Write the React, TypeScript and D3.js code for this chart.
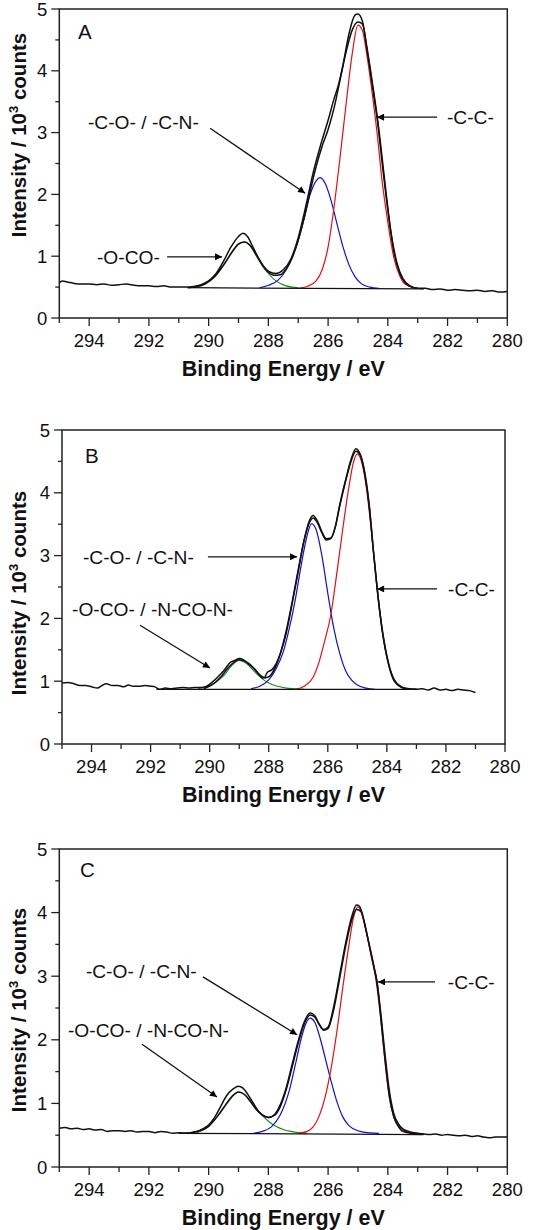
import React from 'react';
import * as d3 from 'd3';

type Pt = [number, number];

// ---------- axis ticks ----------
const xMajor = [294, 292, 290, 288, 286, 284, 282, 280];
const xMinor = [295, 293, 291, 289, 287, 285, 283, 281];
const yMajor = [0, 1, 2, 3, 4, 5];
const yMinor = [0.5, 1.5, 2.5, 3.5, 4.5];

// ---------- Panel A ----------
const A_raw: Pt[] = [
  [295.0, 0.57], [294.9, 0.60], [294.7, 0.58], [294.5, 0.56], [294.25, 0.55], [294.0, 0.55], [293.75, 0.54],
  [293.5, 0.55], [293.25, 0.53], [293.0, 0.54], [292.75, 0.55], [292.5, 0.53], [292.25, 0.52], [292.0, 0.52],
  [291.75, 0.51], [291.5, 0.52], [291.25, 0.50], [291.0, 0.50], [290.75, 0.50], [290.5, 0.51], [290.25, 0.54],
  [290.0, 0.60], [289.75, 0.72], [289.5, 0.92], [289.25, 1.15], [289.0, 1.32], [288.85, 1.37], [288.7, 1.32],
  [288.5, 1.13], [288.25, 0.90], [288.0, 0.76], [287.75, 0.72], [287.5, 0.78], [287.25, 0.95], [287.0, 1.30],
  [286.75, 1.80], [286.5, 2.35], [286.25, 2.80], [286.0, 3.20], [285.8, 3.55], [285.65, 3.78], [285.5, 4.10],
  [285.3, 4.60], [285.1, 4.90], [285.0, 4.92], [284.85, 4.80], [284.7, 4.38], [284.5, 3.75], [284.3, 3.05],
  [284.1, 2.20], [283.9, 1.40], [283.7, 0.90], [283.5, 0.64], [283.25, 0.52], [283.0, 0.48], [282.75, 0.48],
  [282.5, 0.46], [282.25, 0.47], [282.0, 0.45], [281.75, 0.46], [281.5, 0.45], [281.25, 0.44], [281.0, 0.45],
  [280.75, 0.43], [280.5, 0.44], [280.25, 0.42], [280.0, 0.43],
];
const A_env: Pt[] = [
  [290.7, 0.49], [290.4, 0.51], [290.1, 0.56], [289.8, 0.67], [289.5, 0.86], [289.2, 1.08], [289.0, 1.20],
  [288.8, 1.23], [288.6, 1.17], [288.4, 1.02], [288.2, 0.86], [288.0, 0.74], [287.8, 0.69], [287.6, 0.70],
  [287.4, 0.80], [287.2, 0.98], [287.0, 1.26], [286.8, 1.62], [286.6, 2.05], [286.4, 2.45], [286.2, 2.78],
  [286.0, 3.05], [285.8, 3.40], [285.6, 3.85], [285.4, 4.30], [285.2, 4.65], [285.0, 4.79], [284.85, 4.76],
  [284.7, 4.35], [284.5, 3.70], [284.35, 3.20], [284.2, 2.55], [284.0, 1.75], [283.8, 1.08], [283.6, 0.72],
  [283.4, 0.56], [283.2, 0.50], [283.0, 0.48],
];
const A_base: Pt[] = [[290.7, 0.49], [282.8, 0.47]];
const A_green: Pt[] = [
  [290.4, 0.50], [290.1, 0.55], [289.8, 0.66], [289.5, 0.85], [289.2, 1.07], [289.0, 1.19], [288.8, 1.23],
  [288.6, 1.16], [288.4, 1.00], [288.2, 0.84], [288.0, 0.72], [287.8, 0.62], [287.6, 0.56], [287.4, 0.52],
  [287.2, 0.50], [287.0, 0.49],
];
const A_blue: Pt[] = [
  [288.3, 0.49], [288.0, 0.53], [287.7, 0.60], [287.4, 0.78], [287.2, 0.98], [287.0, 1.25], [286.8, 1.62],
  [286.6, 2.00], [286.4, 2.22], [286.27, 2.27], [286.1, 2.18], [285.9, 1.90], [285.7, 1.52], [285.5, 1.15],
  [285.3, 0.86], [285.1, 0.67], [284.9, 0.56], [284.6, 0.50], [284.3, 0.48],
];
const A_red: Pt[] = [
  [287.0, 0.48], [286.7, 0.51], [286.4, 0.60], [286.2, 0.78], [286.0, 1.15], [285.8, 1.80], [285.6, 2.60],
  [285.4, 3.45], [285.2, 4.25], [285.0, 4.74], [284.85, 4.65], [284.7, 4.25], [284.5, 3.55], [284.35, 2.95],
  [284.2, 2.25], [284.0, 1.55], [283.8, 0.98], [283.6, 0.68], [283.4, 0.54], [283.1, 0.49], [282.8, 0.47],
];

// ---------- Panel B ----------
const B_raw: Pt[] = [
  [295.0, 0.97], [294.8, 0.98], [294.6, 0.96], [294.4, 0.93], [294.2, 0.93], [294.0, 0.91], [293.8, 0.89],
  [293.65, 0.93], [293.5, 0.96], [293.3, 0.93], [293.1, 0.93], [292.9, 0.91], [292.75, 0.94], [292.6, 0.92],
  [292.4, 0.92], [292.2, 0.93], [292.0, 0.92], [291.85, 0.91], [291.7, 0.87], [291.5, 0.89], [291.3, 0.88],
  [291.1, 0.89], [290.9, 0.90], [290.7, 0.89], [290.5, 0.90], [290.3, 0.90], [290.1, 0.92], [289.9, 0.99],
  [289.7, 1.08], [289.5, 1.18], [289.3, 1.30], [289.15, 1.33], [289.0, 1.36], [288.85, 1.34], [288.7, 1.28],
  [288.5, 1.20], [288.3, 1.10], [288.15, 1.06], [288.05, 1.14], [287.9, 1.18], [287.75, 1.28], [287.6, 1.45],
  [287.4, 1.78], [287.2, 2.25], [287.0, 2.75], [286.8, 3.25], [286.6, 3.58], [286.5, 3.64], [286.35, 3.55],
  [286.2, 3.38], [286.05, 3.27], [285.9, 3.28], [285.75, 3.45], [285.6, 3.80], [285.4, 4.20], [285.2, 4.55],
  [285.05, 4.70], [284.95, 4.66], [284.8, 4.45], [284.6, 3.82], [284.45, 3.05], [284.3, 2.35], [284.15, 1.80],
  [283.95, 1.30], [283.75, 1.02], [283.5, 0.91], [283.25, 0.88], [283.0, 0.87], [282.8, 0.88], [282.6, 0.86],
  [282.4, 0.89], [282.2, 0.86], [282.0, 0.87], [281.8, 0.85], [281.6, 0.87], [281.4, 0.86], [281.2, 0.85],
  [281.0, 0.82],
];
const B_env: Pt[] = [
  [290.2, 0.88], [289.9, 0.95], [289.6, 1.08], [289.3, 1.25], [289.0, 1.34], [288.7, 1.29], [288.4, 1.15],
  [288.2, 1.05], [288.0, 1.07], [287.8, 1.20], [287.6, 1.45], [287.4, 1.82], [287.2, 2.28], [287.0, 2.78],
  [286.8, 3.25], [286.6, 3.55], [286.5, 3.60], [286.35, 3.52], [286.2, 3.36], [286.05, 3.25], [285.9, 3.27],
  [285.75, 3.45], [285.6, 3.78], [285.4, 4.18], [285.2, 4.52], [285.05, 4.66], [284.9, 4.60], [284.75, 4.30],
  [284.6, 3.80], [284.45, 3.05], [284.3, 2.35], [284.15, 1.78], [283.95, 1.28], [283.75, 1.00], [283.5, 0.90],
  [283.2, 0.87], [283.0, 0.87],
];
const B_base: Pt[] = [[291.8, 0.87], [283.0, 0.87]];
const B_green: Pt[] = [
  [290.4, 0.88], [290.1, 0.91], [289.8, 0.98], [289.5, 1.10], [289.25, 1.25], [289.0, 1.33], [288.75, 1.28],
  [288.5, 1.16], [288.25, 1.05], [288.0, 0.97], [287.7, 0.92], [287.4, 0.89], [287.1, 0.88], [286.8, 0.87],
];
const B_blue: Pt[] = [
  [288.6, 0.88], [288.3, 0.92], [288.0, 1.02], [287.75, 1.20], [287.5, 1.48], [287.3, 1.85], [287.1, 2.30],
  [286.9, 2.85], [286.7, 3.32], [286.55, 3.51], [286.4, 3.42], [286.2, 3.00], [286.0, 2.40], [285.8, 1.85],
  [285.6, 1.45], [285.4, 1.17], [285.2, 1.02], [285.0, 0.94], [284.7, 0.89], [284.4, 0.87],
];
const B_red: Pt[] = [
  [287.1, 0.87], [286.8, 0.92], [286.5, 1.06], [286.3, 1.30], [286.1, 1.65], [285.9, 2.05], [285.7, 2.70],
  [285.5, 3.40], [285.3, 4.05], [285.15, 4.45], [285.0, 4.62], [284.85, 4.48], [284.7, 4.10], [284.55, 3.50],
  [284.4, 2.80], [284.25, 2.15], [284.1, 1.62], [283.9, 1.20], [283.7, 0.98], [283.5, 0.90], [283.2, 0.87],
  [283.0, 0.87],
];

// ---------- Panel C ----------
const C_raw: Pt[] = [
  [295.0, 0.61], [294.8, 0.62], [294.6, 0.60], [294.4, 0.61], [294.2, 0.59], [294.0, 0.60], [293.8, 0.58],
  [293.6, 0.59], [293.4, 0.56], [293.2, 0.57], [293.0, 0.57], [292.8, 0.56], [292.6, 0.57], [292.4, 0.55],
  [292.2, 0.56], [292.0, 0.56], [291.8, 0.54], [291.6, 0.56], [291.4, 0.55], [291.2, 0.53], [291.0, 0.54],
  [290.8, 0.53], [290.6, 0.54], [290.4, 0.56], [290.2, 0.60], [290.0, 0.66], [289.8, 0.78], [289.6, 0.95],
  [289.4, 1.12], [289.2, 1.22], [289.0, 1.27], [288.85, 1.24], [288.7, 1.15], [288.5, 1.00], [288.3, 0.86],
  [288.1, 0.79], [287.95, 0.78], [287.8, 0.82], [287.6, 0.98], [287.4, 1.25], [287.2, 1.62], [287.0, 1.98],
  [286.8, 2.28], [286.6, 2.42], [286.45, 2.38], [286.3, 2.25], [286.15, 2.16], [286.0, 2.20], [285.8, 2.55],
  [285.6, 3.05], [285.4, 3.55], [285.2, 3.95], [285.05, 4.12], [284.95, 4.10], [284.8, 3.88], [284.65, 3.55],
  [284.5, 3.22], [284.37, 2.92], [284.25, 2.48], [284.1, 1.80], [283.95, 1.20], [283.8, 0.84], [283.65, 0.68],
  [283.5, 0.60], [283.3, 0.56], [283.0, 0.53], [282.8, 0.52], [282.6, 0.51], [282.4, 0.52], [282.2, 0.50],
  [282.0, 0.51], [281.8, 0.50], [281.6, 0.49], [281.4, 0.50], [281.2, 0.48], [281.0, 0.49], [280.8, 0.47],
  [280.6, 0.46], [280.4, 0.47], [280.2, 0.47], [280.0, 0.47],
];
const C_env: Pt[] = [
  [291.0, 0.53], [290.6, 0.54], [290.3, 0.57], [290.0, 0.64], [289.7, 0.80], [289.4, 1.00], [289.2, 1.12],
  [289.0, 1.18], [288.8, 1.14], [288.6, 1.03], [288.4, 0.90], [288.2, 0.82], [288.0, 0.78], [287.8, 0.81],
  [287.6, 0.95], [287.4, 1.22], [287.2, 1.58], [287.0, 1.95], [286.8, 2.25], [286.6, 2.39], [286.45, 2.36],
  [286.3, 2.24], [286.15, 2.15], [286.0, 2.18], [285.8, 2.50], [285.6, 3.00], [285.4, 3.50], [285.2, 3.90],
  [285.05, 4.05], [284.9, 4.02], [284.75, 3.76], [284.6, 3.45], [284.45, 3.12], [284.35, 2.88], [284.25, 2.42],
  [284.1, 1.72], [283.95, 1.12], [283.8, 0.79], [283.65, 0.64], [283.5, 0.56], [283.2, 0.53], [282.9, 0.51],
];
const C_base: Pt[] = [[291.0, 0.53], [282.8, 0.51]];
const C_green: Pt[] = [
  [290.4, 0.54], [290.1, 0.60], [289.8, 0.74], [289.5, 0.92], [289.25, 1.08], [289.0, 1.18], [288.75, 1.12],
  [288.5, 0.97], [288.25, 0.83], [288.0, 0.72], [287.75, 0.64], [287.5, 0.59], [287.25, 0.56], [287.0, 0.54],
  [286.7, 0.53],
];
const C_blue: Pt[] = [
  [288.5, 0.53], [288.2, 0.56], [287.9, 0.63], [287.6, 0.82], [287.3, 1.20], [287.1, 1.60], [286.9, 2.02],
  [286.75, 2.25], [286.6, 2.34], [286.45, 2.28], [286.3, 2.08], [286.1, 1.72], [285.9, 1.35], [285.7, 1.02],
  [285.5, 0.78], [285.3, 0.65], [285.0, 0.57], [284.7, 0.54], [284.3, 0.53],
];
const C_red: Pt[] = [
  [287.0, 0.53], [286.7, 0.56], [286.5, 0.63], [286.3, 0.80], [286.1, 1.10], [285.9, 1.55], [285.7, 2.15],
  [285.5, 2.85], [285.3, 3.50], [285.15, 3.92], [285.0, 4.09], [284.85, 3.95], [284.7, 3.65], [284.55, 3.30],
  [284.4, 2.95], [284.25, 2.38], [284.1, 1.68], [283.95, 1.10], [283.8, 0.78], [283.6, 0.62], [283.4, 0.56],
  [283.1, 0.53], [282.8, 0.52],
];

// ---------- annotations (data coordinates) ----------
type Ann = { text: string; tx: number; ty: number; from: Pt; to: Pt };
const A_ann: Ann[] = [
  { text: '-C-O- / -C-N-', tx: 294.04, ty: 3.17, from: [289.95, 3.07], to: [286.77, 2.02] },
  { text: '-C-C-', tx: 282.02, ty: 3.25, from: [282.35, 3.25], to: [284.36, 3.25] },
  { text: '-O-CO-', tx: 293.74, ty: 0.99, from: [291.39, 0.99], to: [289.55, 0.99] },
];
const B_ann: Ann[] = [
  { text: '-C-O- / -C-N-', tx: 294.29, ty: 2.98, from: [290.06, 2.98], to: [287.04, 2.98] },
  { text: '-C-C-', tx: 281.93, ty: 2.47, from: [282.3, 2.47], to: [284.33, 2.47] },
  { text: '-O-CO- / -N-CO-N-', tx: 294.66, ty: 2.15, from: [292.36, 1.89], to: [289.99, 1.21] },
];
const C_ann: Ann[] = [
  { text: '-C-O- / -C-N-', tx: 294.11, ty: 3.08, from: [290.19, 2.99], to: [287.04, 2.08] },
  { text: '-C-C-', tx: 281.99, ty: 2.91, from: [282.42, 2.91], to: [284.33, 2.91] },
  { text: '-O-CO- / -N-CO-N-', tx: 294.71, ty: 2.15, from: [292.23, 1.93], to: [289.72, 1.10] },
];

const FONT = '"Liberation Sans", Arial, Helvetica, sans-serif';

type Panel = {
  letter: string; letterPos: Pt;
  box: { left: number; right: number; top: number; bottom: number };
  yTitleY: number;
  raw: Pt[]; env: Pt[]; base: Pt[]; green: Pt[]; blue: Pt[]; red: Pt[]; ann: Ann[];
};

const panels: Panel[] = [
  { letter: 'A', letterPos: [294.37, 4.51], box: { left: 59.3, right: 507.3, top: 9, bottom: 318 }, yTitleY: 135,
    raw: A_raw, env: A_env, base: A_base, green: A_green, blue: A_blue, red: A_red, ann: A_ann },
  { letter: 'B', letterPos: [294.22, 4.47], box: { left: 62, right: 505, top: 430, bottom: 744 }, yTitleY: 593,
    raw: B_raw, env: B_env, base: B_base, green: B_green, blue: B_blue, red: B_red, ann: B_ann },
  { letter: 'C', letterPos: [294.31, 4.56], box: { left: 59.3, right: 507.3, top: 849, bottom: 1167 }, yTitleY: 1010,
    raw: C_raw, env: C_env, base: C_base, green: C_green, blue: C_blue, red: C_red, ann: C_ann },
];

function PanelView({ p, idx }: { p: Panel; idx: number }) {
  const { left, right, top, bottom } = p.box;
  const x = d3.scaleLinear().domain([295, 280]).range([left, right]);
  const y = d3.scaleLinear().domain([0, 5]).range([bottom, top]);
  const line = d3.line<Pt>().x(d => x(d[0])).y(d => y(d[1])).curve(d3.curveMonotoneX);
  const straight = d3.line<Pt>().x(d => x(d[0])).y(d => y(d[1]));
  const mid = (left + right) / 2;
  const markerId = `arrow${idx}`;
  return (
    <g>
      <defs>
        <marker id={markerId} viewBox="0 0 10 10" refX="10" refY="5" markerWidth="10" markerHeight="7"
          markerUnits="userSpaceOnUse" orient="auto">
          <path d="M0,0 L10,5 L0,10 z" fill="#000" />
        </marker>
      </defs>
      {/* components */}
      <path d={line(p.green) || ''} fill="none" stroke="#1a8a1a" strokeWidth={1.1} />
      <path d={line(p.blue) || ''} fill="none" stroke="#1010d0" strokeWidth={1.2} />
      <path d={line(p.red) || ''} fill="none" stroke="#e01010" strokeWidth={1.2} />
      <path d={straight(p.base) || ''} fill="none" stroke="#111" strokeWidth={1.2} />
      <path d={line(p.env) || ''} fill="none" stroke="#111" strokeWidth={1.5} />
      <path d={line(p.raw) || ''} fill="none" stroke="#111" strokeWidth={1.5} />
      {/* frame */}
      <rect x={left} y={top} width={right - left} height={bottom - top} fill="none" stroke="#222" strokeWidth={1.5} />
      {/* x ticks */}
      {xMajor.map(t => (
        <g key={'xm' + t}>
          <line x1={x(t)} x2={x(t)} y1={bottom} y2={bottom + 8} stroke="#222" strokeWidth={1.3} />
          <text x={x(t)} y={bottom + 29} textAnchor="middle" fontSize={18.5} fontFamily={FONT} fill="#111">{t}</text>
        </g>
      ))}
      {xMinor.map(t => (
        <line key={'xn' + t} x1={x(t)} x2={x(t)} y1={bottom} y2={bottom + 5} stroke="#222" strokeWidth={1.3} />
      ))}
      {/* y ticks */}
      {yMajor.map(t => (
        <g key={'ym' + t}>
          <line x1={left - 8} x2={left} y1={y(t)} y2={y(t)} stroke="#222" strokeWidth={1.3} />
          <text x={left - 12} y={y(t)} dy="0.36em" textAnchor="end" fontSize={18.5} fontFamily={FONT} fill="#111">{t}</text>
        </g>
      ))}
      {yMinor.map(t => (
        <line key={'yn' + t} x1={left - 4} x2={left} y1={y(t)} y2={y(t)} stroke="#222" strokeWidth={1.3} />
      ))}
      {/* axis titles */}
      <text x={mid} y={bottom + 58} textAnchor="middle" fontSize={21.5} fontWeight="bold" fontFamily={FONT} fill="#111">
        Binding Energy / eV
      </text>
      <text transform={`translate(26,${p.yTitleY}) rotate(-90)`} textAnchor="middle" fontSize={20.5}
        fontWeight="bold" fontFamily={FONT} fill="#111">
        Intensity / 10<tspan fontSize={13} dy={-8}>3</tspan><tspan dy={8}> counts</tspan>
      </text>
      {/* panel letter */}
      <text x={x(p.letterPos[0])} y={y(p.letterPos[1])} fontSize={20.5} fontFamily={FONT} fill="#111">{p.letter}</text>
      {/* annotations */}
      {p.ann.map((a, i) => (
        <g key={'an' + i}>
          <text x={x(a.tx)} y={y(a.ty)} dy="0.36em" fontSize={19.2} fontFamily={FONT} fill="#111">{a.text}</text>
          <line x1={x(a.from[0])} y1={y(a.from[1])} x2={x(a.to[0])} y2={y(a.to[1])} stroke="#111" strokeWidth={1.3}
            markerEnd={`url(#${markerId})`} />
        </g>
      ))}
    </g>
  );
}

export default function App() {
  return (
    <svg width={542} height={1230} viewBox="0 0 542 1230"
      style={{ position: 'absolute', left: 0, top: 0, background: '#fff', display: 'block' }}>
      <rect x={0} y={0} width={542} height={1230} fill="#fff" />
      {panels.map((p, i) => <PanelView key={p.letter} p={p} idx={i} />)}
    </svg>
  );
}
